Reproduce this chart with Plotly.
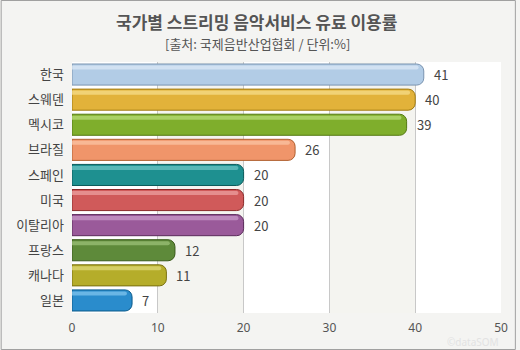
import plotly.graph_objects as go

countries = ["한국", "스웨덴", "멕시코", "브라질", "스페인", "미국", "이탈리아", "프랑스", "캐나다", "일본"]
values = [41, 40, 39, 26, 20, 20, 20, 12, 11, 7]
bar_colors = ["#b2cce6", "#e2b23a", "#7fae2c", "#f0956a", "#1e9090", "#d05a5a", "#9a5a9a", "#5e8a3a", "#b5ad2a", "#2a8ccc"]
edge_colors = ["#7a94b0", "#a07a10", "#557a12", "#b06030", "#0a5a5a", "#8a2a2a", "#5a2a5a", "#3a5a1a", "#7a7010", "#0a5a8a"]
hi_colors = ["#dbe8f5", "#f5dc8a", "#b8dc78", "#fbc4a4", "#6cc4c4", "#eca0a0", "#c89ac8", "#9cc078", "#e0da78", "#80c4ee"]
x_ticks = [0, 10, 20, 30, 40, 50]
band_ranges = [(10, 20), (30, 40)]

W, H = 520, 350
ml, mr, mt, mb = 72, 15, 62, 37
pw, ph = W - ml - mr, H - mt - mb

fig = go.Figure()
fig.add_trace(go.Bar(
    x=values, y=countries, orientation="h", width=0.84,
    marker=dict(color=bar_colors, line=dict(color=edge_colors, width=1), cornerradius=7),
    hoverinfo="x+y", showlegend=False,
))
fig.add_trace(go.Bar(
    x=[v - 0.6 for v in values], y=countries, orientation="h", width=0.16, offset=-0.36,
    marker=dict(color=hi_colors, opacity=0.75, line=dict(width=0), cornerradius=3),
    hoverinfo="skip", showlegend=False,
))

for c, v in zip(countries, values):
    fig.add_annotation(x=v, y=c, text=str(v), xanchor="left", xshift=8, showarrow=False,
                       font=dict(size=13, color="#444444", family="Noto Sans CJK KR, sans-serif"))

shapes = []
for a, b in band_ranges:
    shapes.append(dict(type="rect", xref="x", yref="paper", x0=a, x1=b, y0=0, y1=1,
                       fillcolor="#f4f4f0", line=dict(width=0), layer="below"))
shapes.append(dict(type="rect", xref="paper", yref="paper",
                   x0=-(ml - 0.5) / pw, x1=1 + (mr - 0.5) / pw,
                   y0=-(mb - 0.5) / ph, y1=1 + (mt - 0.5) / ph,
                   line=dict(color="#a0a0a0", width=1), fillcolor="rgba(0,0,0,0)", layer="below"))

fig.add_annotation(xref="paper", yref="paper", x=(258 - ml) / pw, y=1 + (mt - 22) / ph,
                   text="<b>국가별 스트리밍 음악서비스 유료 이용률</b>", showarrow=False,
                   xanchor="center", yanchor="middle",
                   font=dict(size=17, color="#555555", family="Noto Sans CJK KR, sans-serif"))
fig.add_annotation(xref="paper", yref="paper", x=(259 - ml) / pw, y=1 + (mt - 43) / ph,
                   text="[출처: 국제음반산업협회 / 단위:%]", showarrow=False,
                   xanchor="center", yanchor="middle",
                   font=dict(size=13, color="#555555", family="Noto Sans CJK KR, sans-serif"))
fig.add_annotation(xref="paper", yref="paper", x=(505 - ml) / pw, y=-(342 - mt - ph) / ph,
                   text="©dataSOM", showarrow=False, xanchor="right", yanchor="middle",
                   font=dict(size=10, color="#e2e2e2", family="Noto Sans, sans-serif"))

fig.update_layout(
    width=W, height=H,
    margin=dict(l=ml, r=mr, t=mt, b=mb, pad=0),
    paper_bgcolor="#f4f4f2", plot_bgcolor="#ffffff",
    barmode="overlay", bargap=0.16,
    shapes=shapes,
    font=dict(family="Noto Sans CJK KR, sans-serif", color="#444444"),
    xaxis=dict(range=[0, 50], tickvals=x_ticks, showgrid=True, gridcolor="#c8c8c8", gridwidth=1,
               zeroline=False, showline=False, ticks="", ticklabelstandoff=6,
               tickfont=dict(size=12, color="#555555", family="Noto Sans, sans-serif"), fixedrange=True),
    yaxis=dict(autorange="reversed", showgrid=False, zeroline=False, showline=False, ticks="",
               ticklabelstandoff=7, tickfont=dict(size=13, color="#444444"), fixedrange=True),
)

fig.write_html("out.html", config={"displayModeBar": False})
